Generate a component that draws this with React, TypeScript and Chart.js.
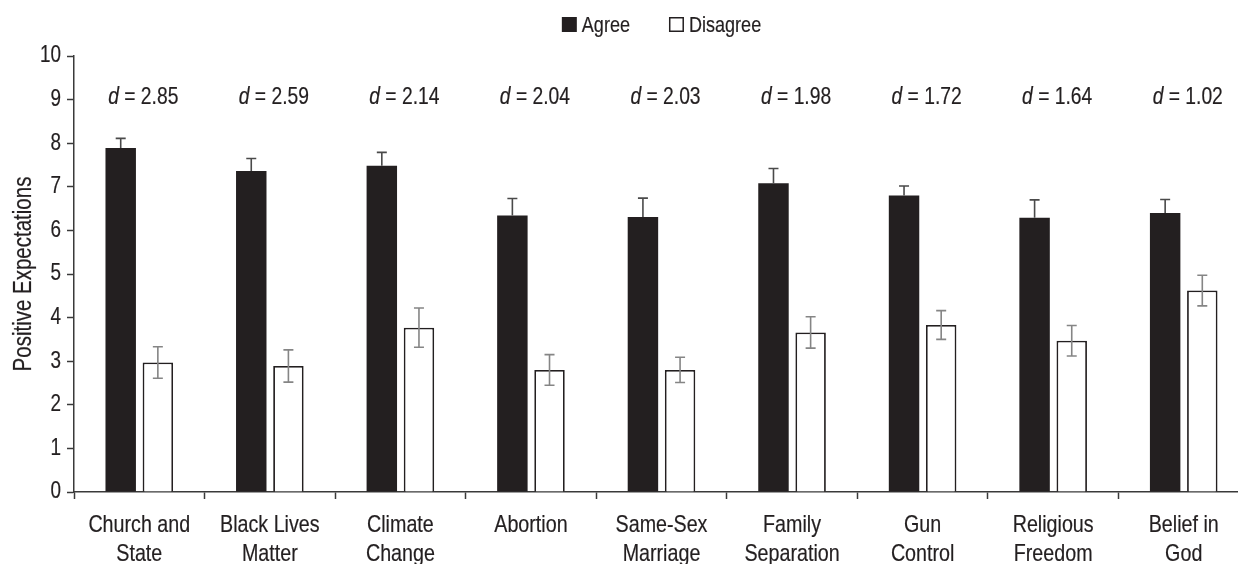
import React, { useEffect, useRef } from "react";
import { Chart, registerables } from "chart.js";

Chart.register(...registerables);

// Issue categories (two-line axis labels)
const categories: string[][] = [
  ["Church and", "State"],
  ["Black Lives", "Matter"],
  ["Climate", "Change"],
  ["Abortion"],
  ["Same-Sex", "Marriage"],
  ["Family", "Separation"],
  ["Gun", "Control"],
  ["Religious", "Freedom"],
  ["Belief in", "God"],
];

// Mean positive expectations and their error margins
const agreeMeans = [7.89, 7.36, 7.48, 6.34, 6.31, 7.08, 6.8, 6.29, 6.4];
const agreeErrors = [0.22, 0.29, 0.31, 0.39, 0.43, 0.34, 0.22, 0.41, 0.31];
const disagreeMeans = [2.97, 2.89, 3.77, 2.8, 2.8, 3.66, 3.83, 3.47, 4.62];
const disagreeErrors = [0.36, 0.37, 0.45, 0.35, 0.29, 0.36, 0.33, 0.35, 0.35];

// Cohen's d for each issue
const effectSizes = ["2.85", "2.59", "2.14", "2.04", "2.03", "1.98", "1.72", "1.64", "1.02"];

const seriesNames = ["Agree", "Disagree"];
const yMin = 0;
const yMax = 10;
const yStep = 1;
const yTitle = "Positive Expectations";

const INK = "#231f20";
const AXIS = "#3a3a3a";
const FONT = "'Liberation Sans', Arial, Helvetica, sans-serif";
// horizontal squeeze giving the narrow, condensed lettering
const NARROW = 0.82;

const errorSets = [agreeErrors, disagreeErrors];

function narrowWidth(ctx: CanvasRenderingContext2D, text: string, font: string) {
  ctx.font = font;
  return ctx.measureText(text).width * NARROW;
}

function narrowText(
  ctx: CanvasRenderingContext2D,
  text: string,
  x: number,
  y: number,
  font: string,
  align: CanvasTextAlign,
  baseline: CanvasTextBaseline
) {
  ctx.save();
  ctx.font = font;
  ctx.textAlign = align;
  ctx.textBaseline = baseline;
  ctx.translate(x, y);
  ctx.scale(NARROW, 1);
  ctx.fillText(text, 0, 0);
  // slight weight so the squeezed strokes keep their heft
  ctx.strokeStyle = ctx.fillStyle;
  ctx.lineWidth = 0.2;
  ctx.strokeText(text, 0, 0);
  ctx.restore();
}

const annotations = {
  id: "annotations",
  afterDatasetsDraw(chart: any) {
    const ctx = chart.ctx;
    const y = chart.scales.y;
    chart.data.datasets.forEach((ds: any, di: number) => {
      const meta = chart.getDatasetMeta(di);
      const errs = errorSets[di];
      ctx.save();
      ctx.strokeStyle = di === 0 ? "#4a4a4a" : "#858585";
      ctx.lineWidth = 1.6;
      meta.data.forEach((bar: any, i: number) => {
        const v = ds.data[i];
        const e = errs[i];
        const top = y.getPixelForValue(v + e);
        const bottom = di === 0 ? bar.y : y.getPixelForValue(v - e);
        const cx = bar.x;
        ctx.beginPath();
        ctx.moveTo(cx, bottom);
        ctx.lineTo(cx, top);
        ctx.moveTo(cx - 5, top);
        ctx.lineTo(cx + 5, top);
        if (di === 1) {
          ctx.moveTo(cx - 5, bottom);
          ctx.lineTo(cx + 5, bottom);
        }
        ctx.stroke();
      });
      ctx.restore();
    });
  },
  afterDraw(chart: any) {
    const ctx: CanvasRenderingContext2D = chart.ctx;
    const area = chart.chartArea;
    const x = chart.scales.x;
    const y = chart.scales.y;
    ctx.save();
    ctx.fillStyle = INK;

    // y tick labels
    const tickFont = `23px ${FONT}`;
    for (let v = yMin; v <= yMax; v += yStep) {
      narrowText(ctx, String(v), area.left - 13, y.getPixelForValue(v), tickFont, "right", "middle");
    }

    // category labels
    const catFont = `24px ${FONT}`;
    categories.forEach((lines, i) => {
      const cx = x.getPixelForValue(i);
      lines.forEach((line, k) => {
        narrowText(ctx, line, cx, area.bottom + 40 + k * 29, catFont, "center", "alphabetic");
      });
    });

    // effect size labels
    const dItalic = `italic 23.5px ${FONT}`;
    const dPlain = `23.5px ${FONT}`;
    const ly = y.getPixelForValue(9) + 4;
    effectSizes.forEach((d, i) => {
      const cx = x.getPixelForValue(i) + 4;
      const rest = ` = ${d}`;
      const wd = narrowWidth(ctx, "d", dItalic);
      const wr = narrowWidth(ctx, rest, dPlain);
      const start = cx - (wd + wr) / 2;
      narrowText(ctx, "d", start, ly, dItalic, "left", "alphabetic");
      narrowText(ctx, rest, start + wd, ly, dPlain, "left", "alphabetic");
    });

    // legend
    const legFont = `22px ${FONT}`;
    const box = 15;
    const gapText = 5;
    const gapItem = 39;
    const widths = seriesNames.map((n) => box + gapText + narrowWidth(ctx, n, legFont));
    const total = widths[0] + gapItem + widths[1];
    let lx = (area.left + area.right) / 2 - total / 2;
    const cy = 24.5;
    seriesNames.forEach((n, i) => {
      if (i === 0) {
        ctx.fillStyle = INK;
        ctx.fillRect(lx, cy - box / 2, box, box);
      } else {
        ctx.fillStyle = "#ffffff";
        ctx.fillRect(lx, cy - box / 2, box, box);
        ctx.strokeStyle = INK;
        ctx.lineWidth = 1.5;
        ctx.strokeRect(lx + 0.75, cy - box / 2 + 0.75, box - 1.5, box - 1.5);
      }
      ctx.fillStyle = INK;
      narrowText(ctx, n, lx + box + gapText, cy + 1, legFont, "left", "middle");
      lx += widths[i] + gapItem;
    });

    // y axis title
    ctx.save();
    ctx.fillStyle = INK;
    ctx.translate(24, (area.top + area.bottom) / 2);
    ctx.rotate(-Math.PI / 2);
    narrowText(ctx, yTitle, 0, 0, `25px ${FONT}`, "center", "middle");
    ctx.restore();

    ctx.restore();
  },
};

export default function App() {
  const canvasRef = useRef<HTMLCanvasElement | null>(null);

  useEffect(() => {
    const canvas = canvasRef.current;
    if (!canvas) return;
    const chart = new Chart(canvas, {
      type: "bar",
      data: {
        labels: categories,
        datasets: [
          {
            label: seriesNames[0],
            data: agreeMeans,
            backgroundColor: INK,
            borderWidth: 0,
          },
          {
            label: seriesNames[1],
            data: disagreeMeans,
            backgroundColor: "#ffffff",
            borderColor: INK,
            borderWidth: 1.8,
          },
        ],
      },
      options: {
        responsive: false,
        animation: false,
        devicePixelRatio: 1,
        layout: { padding: { top: 56, right: 0, left: 0, bottom: 0 } },
        datasets: {
          bar: { categoryPercentage: 0.569, barPercentage: 0.82 },
        },
        plugins: {
          legend: { display: false },
          tooltip: { enabled: false },
        },
        scales: {
          x: {
            offset: true,
            grid: {
              offset: true,
              drawOnChartArea: false,
              drawTicks: true,
              tickLength: 7,
              tickWidth: 1.5,
              tickColor: AXIS,
            },
            border: { display: true, color: AXIS, width: 1.5 },
            ticks: { display: false, autoSkip: false, maxRotation: 0 },
            afterFit(scale: any) {
              scale.height = 72;
            },
          },
          y: {
            min: yMin,
            max: yMax,
            grid: {
              drawOnChartArea: false,
              drawTicks: true,
              tickLength: 7,
              tickWidth: 1.5,
              tickColor: AXIS,
            },
            border: { display: true, color: AXIS, width: 1.5 },
            ticks: { display: false, stepSize: yStep },
            afterFit(scale: any) {
              scale.width = 74;
            },
          },
        },
      },
      plugins: [annotations],
    } as any);
    return () => chart.destroy();
  }, []);

  return (
    <div style={{ width: 1238, height: 564, overflow: "hidden", position: "relative" }}>
      <style>{`html,body{margin:0;padding:0;overflow:hidden;background:#fff;}`}</style>
      <canvas ref={canvasRef} width={1249} height={564} style={{ display: "block" }} />
    </div>
  );
}
